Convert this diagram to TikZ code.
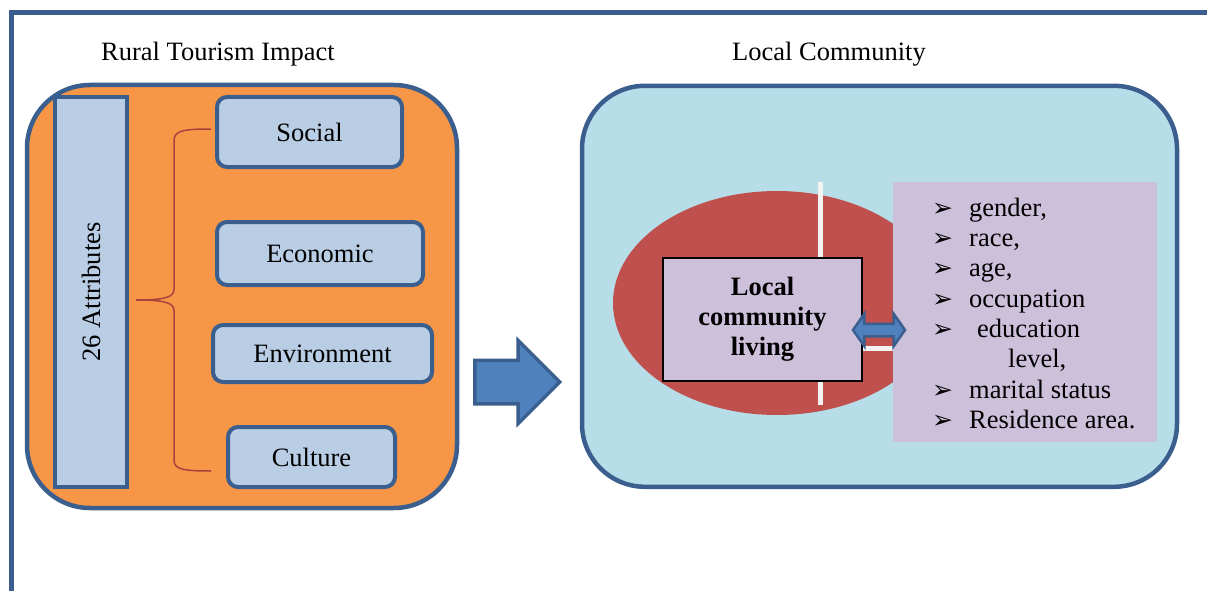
\documentclass[tikz,border=0pt]{standalone}
\usepackage{fontspec}
\setmainfont{Liberation Serif}
\newfontfamily\dingfont{DejaVu Sans}
\usetikzlibrary{shapes.geometric,shapes.arrows}
\definecolor{edgeblue}{HTML}{3A5F8E}
\definecolor{boxblue}{HTML}{B9CDE5}
\definecolor{panelorange}{HTML}{F79646}
\definecolor{panelcyan}{HTML}{B7DEE8}
\definecolor{ovalred}{HTML}{C0504D}
\definecolor{lilac}{HTML}{CCC0DA}
\definecolor{arrowblue}{HTML}{4F81BD}
\definecolor{bracered}{HTML}{A8433F}

\begin{document}
\begin{tikzpicture}[x=1pt,y=-1pt,font=\fontsize{26.5}{30.3}\selectfont,
 panel/.style={draw=edgeblue,line width=4.5,rounded corners=63,inner sep=0pt},
 facet/.style={draw=edgeblue,fill=boxblue,line width=4,rounded corners=10,inner sep=0pt},
 blockarrow/.style={draw=edgeblue,fill=arrowblue,inner xsep=0pt},
 item/.style={anchor=base west,inner sep=0pt},
 bul/.style={anchor=base west,inner sep=0pt,font=\dingfont\fontsize{25}{25}\selectfont},
 gap/.style={draw=white!95!black,line width=5}]
\useasboundingbox (0,0) rectangle (1207,591);
\draw[edgeblue,line width=5] (11,591) -- (11,12.5) -- (1207,12.5);
\node[anchor=base] (t1) at (218,61) {Rural Tourism Impact};
\node[anchor=base] (t2) at (829,61) {Local Community};
% rural tourism impact
\node[panel,fill=panelorange,minimum width=430,minimum height=423] (rti) at (242,296.5) {};
\node[draw=edgeblue,fill=boxblue,line width=4,rotate=90,minimum width=390,minimum height=72,inner sep=0pt] (attr) at (91,292) {26 Attributes};
\node[facet,minimum width=185,minimum height=70] (soc) at (309.5,132) {Social};
\node[facet,minimum width=206,minimum height=63] (eco) at (320,253.5) {Economic};
\node[facet,minimum width=219,minimum height=57] (env) at (322.5,353.5) {Environment};
\node[facet,minimum width=167,minimum height=60] (cul) at (311.5,457) {Culture};
\draw[bracered,line width=1.5] (211,129) .. controls (182,129) and (174,131) .. (174,141) -- (174,289)
 .. controls (174,297) and (166,300) .. (136,300) .. controls (166,300) and (174,303) .. (174,311)
 -- (174,460) .. controls (174,469) and (182,471) .. (211,471);
\node[blockarrow,single arrow,line width=3.5,inner ysep=20,minimum height=85,
 single arrow head extend=20,anchor=tail] (go) at (473,382) {};
% local community
\node[panel,fill=panelcyan,minimum width=595,minimum height=401] (lc) at (879.5,286.3) {};
\node[ellipse,fill=ovalred,minimum width=328,minimum height=224,inner sep=0pt] (oval) at (777,303) {};
\draw[gap] (820,182) -- (820,405);
\node[draw=black,line width=1.5,fill=lilac,minimum width=199,minimum height=123,align=center,
 font=\fontsize{26.5}{30}\selectfont\bfseries] (lcl) at (762.5,319.5) {Local\\community\\living};
\node[fill=lilac,minimum width=264,minimum height=260,inner sep=0pt] (traits) at (1025,312) {};
\draw[gap] (lcl.east |- 0,348) -- (traits.west |- 0,348);
\node[blockarrow,double arrow,line width=2.5,inner ysep=5,minimum height=52,
 double arrow head extend=10,double arrow tip angle=110] (link) at (879,330) {};
\foreach \y/\x/\t [count=\i] in {216/969/{gender,},246/969/{race,},276/969/{age,},307/969/occupation,
 337/977/education,367/1008/{level,},398/969/{marital status},428/969/{Residence area.}}
  \node[item] (it\i) at (\x,\y) {\t};
\foreach \y [count=\i] in {216,246,276,307,337,398,428}
  \node[bul] (b\i) at (932,\y) {➢};
\end{tikzpicture}
\end{document}
